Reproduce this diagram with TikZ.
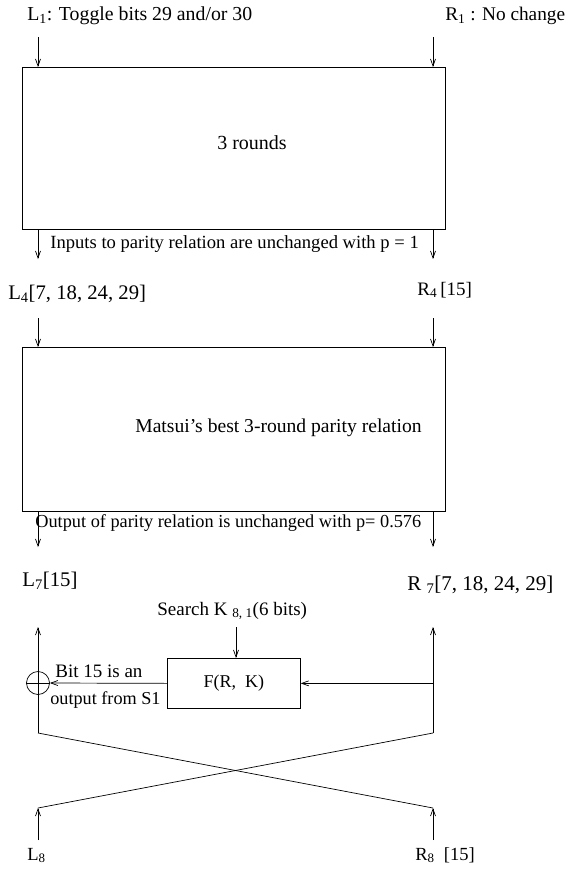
\documentclass[tikz,border=0pt]{standalone}
\usepackage{fontspec}
\setmainfont{Liberation Serif}
\usetikzlibrary{arrows.meta}
\begin{document}
\begin{tikzpicture}[x=1pt,y=-1pt,line width=0.7pt,
  arr/.style={-{Straight Barb[length=7pt,width=5pt]}},
  lbl/.style={font=\fontsize{#1}{#1}\selectfont,inner sep=0pt},
  lbl/.default=19.5,
  boxnode/.style={draw,inner sep=0pt,anchor=north west}]
\path[use as bounding box] (0,0) rectangle (566,871);
% top labels
\node[lbl=19.8,anchor=base west] (l1) at (27,20) {L\textsubscript{1}: Toggle bits 29 and/or 30};
\node[lbl=19.3,anchor=base west] (r1) at (445,20) {R\textsubscript{1} : No change};
% box 1
\node[boxnode,minimum width=423pt,minimum height=162pt] (b1) at (22,67) {};
\node[lbl=20,anchor=base] (t1) at (252,149) {3 rounds};
\coordinate (a1) at (38,37);
\coordinate (a2) at (433,37);
\draw[arr] (a1) -- (a1 |- b1.north);
\draw[arr] (a2) -- (a2 |- b1.north);
\coordinate (a3) at (38,259);
\coordinate (a4) at (433,259);
\draw[arr] (b1.south -| a3) -- (a3);
\draw[arr] (b1.south -| a4) -- (a4);
\node[lbl=18.6,anchor=base west] (in) at (50,248) {Inputs to parity relation are unchanged with p = 1};
% L4 R4
\node[lbl=20.7,anchor=base west] (l4) at (8,299) {L\textsubscript{4}[7, 18, 24, 29]};
\node[lbl=19,anchor=base west] (r4) at (417,295) {R\textsubscript{4}\,[15]};
% box 2
\node[boxnode,minimum width=423pt,minimum height=164pt] (b2) at (22,347) {};
\node[lbl=19.6,anchor=base west] (t2) at (135,432) {Matsui's best 3-round parity relation};
\coordinate (a5) at (38,318);
\coordinate (a6) at (433,318);
\draw[arr] (a5) -- (a5 |- b2.north);
\draw[arr] (a6) -- (a6 |- b2.north);
\coordinate (a7) at (38,547);
\coordinate (a8) at (433,547);
\draw[arr] (b2.south -| a7) -- (a7);
\draw[arr] (b2.south -| a8) -- (a8);
\node[lbl=18.3,anchor=base west] (out) at (35,527) {Output of parity relation is unchanged with p= 0.576};
% L7 R7
\node[lbl=20.8,anchor=base west] (l7) at (22,586) {L\textsubscript{7}[15]};
\node[lbl=21,anchor=base west] (r7) at (407,590) {R \textsubscript{7}[7, 18, 24, 29]};
\node[lbl=19,anchor=base west] (sk) at (157,615) {Search K \textsubscript{8, 1}(6 bits)};
% F box
\node[boxnode,minimum width=133pt,minimum height=50pt] (F) at (167,658) {};
\node[lbl=18] (ft) at (F.center) {F(R,\ \ K)};
\coordinate (k) at (236,627);
\draw[arr] (k) -- (k |- F.north);
\node[draw,circle,minimum size=23pt,inner sep=0pt] (x) at (38,683) {};
\draw (x.west) -- (x.east);
\coordinate (v1) at (38,733);
\coordinate (v2) at (433,733);
\coordinate (v1t) at (38,627);
\coordinate (v2t) at (433,627);
\draw[arr] (v1) -- (v1t);
\draw[arr] (v2) -- (v2t);
\draw[arr] (F.west) -- (x.east);
\draw[arr] (v2 |- F.east) -- (F.east);
\node[lbl=19,anchor=base west] (bt1) at (55,677) {Bit 15 is an};
\node[lbl=18.2,anchor=base west] (bt2) at (50,704) {output from S1};
% crossing
\coordinate (c1) at (38,808);
\coordinate (c2) at (433,808);
\draw (v1) -- (c2);
\draw (v2) -- (c1);
\coordinate (e1) at (38,840);
\coordinate (e2) at (433,840);
\draw[arr] (e1) -- (c1);
\draw[arr] (e2) -- (c2);
\node[lbl=18.5,anchor=base west] (l8) at (27,860) {L\textsubscript{8}};
\node[lbl=18.5,anchor=base west] (r8) at (415,860) {R\textsubscript{8}\ \ [15]};
\end{tikzpicture}
\end{document}
